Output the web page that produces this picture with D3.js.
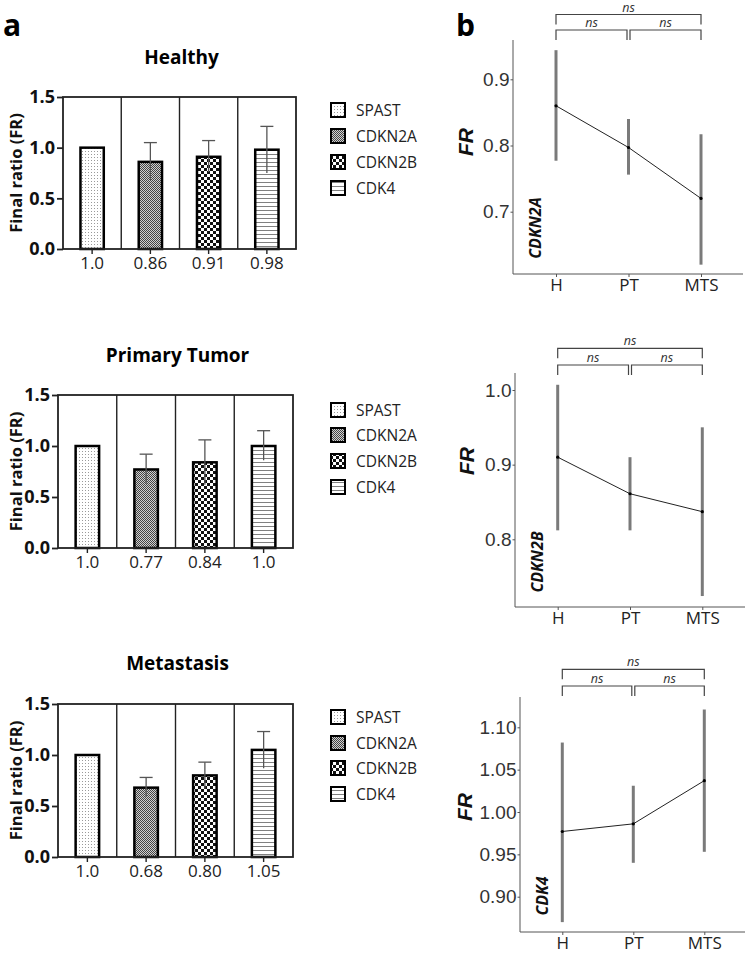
<!DOCTYPE html>
<html><head><meta charset="utf-8">
<script src="https://cdn.jsdelivr.net/npm/d3@7"></script>
<style>body{margin:0;background:#fff}svg{display:block}</style>
</head><body>
<svg id="c" width="749" height="953"></svg>
<script>
// ---------- DATA ----------
const genes = ["SPAST","CDKN2A","CDKN2B","CDK4"];
const barTitles = ["Healthy","Primary Tumor","Metastasis"];
const barTicks = [0, 0.5, 1.0, 1.5];

const healthyFR = [1.0, 0.86, 0.91, 0.98];
const healthyLow = [null, 0.68, 0.76, 0.75];
const healthyHigh = [null, 1.05, 1.07, 1.21];
const healthyLabels = ["1.0","0.86","0.91","0.98"];

const tumorFR = [1.0, 0.77, 0.84, 1.0];
const tumorLow = [null, 0.63, 0.62, 0.86];
const tumorHigh = [null, 0.92, 1.06, 1.15];
const tumorLabels = ["1.0","0.77","0.84","1.0"];

const metaFR = [1.0, 0.68, 0.80, 1.05];
const metaLow = [null, 0.59, 0.67, 0.87];
const metaHigh = [null, 0.78, 0.93, 1.23];
const metaLabels = ["1.0","0.68","0.80","1.05"];

const groups = ["H","PT","MTS"];
const lineGenes = ["CDKN2A","CDKN2B","CDK4"];

const cdkn2aMean = [0.86, 0.797, 0.72];
const cdkn2aLow = [0.777, 0.756, 0.62];
const cdkn2aHigh = [0.944, 0.84, 0.817];
const cdkn2aTicks = [0.7, 0.8, 0.9];

const cdkn2bMean = [0.91, 0.861, 0.837];
const cdkn2bLow = [0.812, 0.812, 0.724];
const cdkn2bHigh = [1.007, 0.91, 0.95];
const cdkn2bTicks = [0.8, 0.9, 1.0];

const cdk4Mean = [0.977, 0.986, 1.037];
const cdk4Low = [0.870, 0.940, 0.953];
const cdk4High = [1.082, 1.031, 1.121];
const cdk4Ticks = [0.90, 0.95, 1.00, 1.05, 1.10];

const sigLabel = "ns";

// ---------- SETUP ----------
const svg = d3.select("#c");
const defs = svg.append("defs");
const FONT = "'Open Sans', sans-serif";
const ARIAL = "'Liberation Sans', Arial, sans-serif";

function pat(id, w, h, bg) {
  const p = defs.append("pattern").attr("id", id).attr("patternUnits","userSpaceOnUse")
    .attr("width", w).attr("height", h);
  p.append("rect").attr("width", w).attr("height", h).attr("fill", bg);
  return p;
}
let p0 = pat("pSPAST", 3, 3, "#fff");
p0.append("rect").attr("x",1).attr("y",1).attr("width",1).attr("height",1).attr("fill","#9a9a9a");
let p1 = pat("pCDKN2A", 2, 2, "#d0d0d0");
p1.append("rect").attr("x",0).attr("y",0).attr("width",1).attr("height",1).attr("fill","#444");
p1.append("rect").attr("x",1).attr("y",1).attr("width",1).attr("height",1).attr("fill","#444");
let p2 = pat("pCDKN2B", 6, 6, "#fff");
p2.append("rect").attr("x",0).attr("y",0).attr("width",3).attr("height",3).attr("fill","#111");
p2.append("rect").attr("x",3).attr("y",3).attr("width",3).attr("height",3).attr("fill","#111");
let p3 = pat("pCDK4", 4, 4, "#fff");
p3.append("rect").attr("x",0).attr("y",2).attr("width",4).attr("height",1).attr("fill","#808080");
const fills = ["url(#pSPAST)","url(#pCDKN2A)","url(#pCDKN2B)","url(#pCDK4)"];

svg.append("text").attr("x",3).attr("y",36).text("a")
  .attr("font-family",FONT).attr("font-weight",700).attr("font-size",30);
svg.append("text").attr("x",456).attr("y",36).text("b")
  .attr("font-family",FONT).attr("font-weight",700).attr("font-size",30);

// ---------- BAR PANELS ----------
const barPanels = [
  {title: barTitles[0], vals: healthyFR, lo: healthyLow, hi: healthyHigh, labels: healthyLabels,
   x0: 63, x1: 296, y0: 97, y1: 249, ty: 64, ly: [110,136,162,188]},
  {title: barTitles[1], vals: tumorFR, lo: tumorLow, hi: tumorHigh, labels: tumorLabels,
   x0: 58, x1: 293, y0: 395, y1: 548, ty: 362, ly: [410,435,461,487]},
  {title: barTitles[2], vals: metaFR, lo: metaLow, hi: metaHigh, labels: metaLabels,
   x0: 58, x1: 293, y0: 704, y1: 857, ty: 670, ly: [717,743,768,794]}
];

barPanels.forEach(P => {
  const g = svg.append("g");
  const x = d3.scaleBand().domain(genes).range([P.x0, P.x1]).paddingInner(0.6).paddingOuter(0.3);
  const y = d3.scaleLinear().domain([0, 1.5]).range([P.y1, P.y0]);

  g.append("text").attr("x", (P.x0 + P.x1) / 2 + 2).attr("y", P.ty).attr("text-anchor","middle")
    .attr("font-family",FONT).attr("font-weight",700).attr("font-size",19).text(P.title);

  genes.slice(1).forEach((d, i) => {
    const xx = P.x0 + (i + 1) * (P.x1 - P.x0) / 4;
    g.append("line").attr("x1",xx).attr("x2",xx).attr("y1",P.y0).attr("y2",P.y1)
      .attr("stroke","#222").attr("stroke-width",1.4);
  });

  g.selectAll("rect.bar").data(P.vals).enter().append("rect")
    .attr("x", (d,i) => x(genes[i]))
    .attr("y", d => y(d))
    .attr("width", x.bandwidth())
    .attr("height", d => y(0) - y(d))
    .attr("fill", (d,i) => fills[i])
    .attr("stroke","#000").attr("stroke-width",2.5);

  P.vals.forEach((v, i) => {
    if (P.hi[i] == null) return;
    const cx = x(genes[i]) + x.bandwidth() / 2;
    g.append("line").attr("x1",cx).attr("x2",cx).attr("y1",y(P.lo[i])).attr("y2",y(P.hi[i]))
      .attr("stroke","#555").attr("stroke-width",1.3);
    g.append("line").attr("x1",cx-6.5).attr("x2",cx+6.5).attr("y1",y(P.hi[i])).attr("y2",y(P.hi[i]))
      .attr("stroke","#555").attr("stroke-width",1.3);
  });

  g.append("rect").attr("x",P.x0).attr("y",P.y0).attr("width",P.x1-P.x0).attr("height",P.y1-P.y0)
    .attr("fill","none").attr("stroke","#222").attr("stroke-width",1.8);

  const ya = d3.axisLeft(y).tickValues(barTicks).tickFormat(d3.format(".1f")).tickSize(6).tickPadding(2);
  const yg = g.append("g").attr("transform",`translate(${P.x0},0)`).call(ya);
  yg.select(".domain").remove();
  yg.selectAll("line").attr("stroke","#222").attr("stroke-width",1.8);
  yg.selectAll("text").attr("font-family",FONT).attr("font-weight",700).attr("font-size",18).attr("fill","#111");

  const xa = d3.axisBottom(x).tickSize(5).tickPadding(3).tickFormat((d,i) => P.labels[i]);
  const xg = g.append("g").attr("transform",`translate(0,${P.y1})`).call(xa);
  xg.select(".domain").remove();
  xg.selectAll("line").attr("stroke","#222").attr("stroke-width",1.4);
  xg.selectAll("text").attr("font-family",FONT).attr("font-size",17).attr("fill","#222");

  g.append("text").attr("transform",`translate(22,${(P.y0+P.y1)/2}) rotate(-90)`)
    .attr("text-anchor","middle").attr("font-family",FONT).attr("font-weight",700).attr("font-size",16.5)
    .attr("fill","#111").text("Final ratio (FR)");

  genes.forEach((gn, i) => {
    g.append("rect").attr("x",331).attr("y",P.ly[i]-7).attr("width",14).attr("height",14)
      .attr("fill",fills[i]).attr("stroke","#000").attr("stroke-width",2);
    g.append("text").attr("x",356).attr("y",P.ly[i]+5.5).attr("font-family",FONT).attr("font-size",15.5)
      .attr("fill","#222").text(gn);
  });
});

// ---------- LINE PANELS ----------
const linePanels = [
  {gene: lineGenes[0], mean: cdkn2aMean, lo: cdkn2aLow, hi: cdkn2aHigh, ticks: cdkn2aTicks, fmt: ".1f",
   ax: 513, ax1: 743, yTop: 40, yBot: 274, xs: [556, 628, 701], frX: 466, frY: 142,
   t0: 0.9, t0y: 79.3, t1: 0.7, t1y: 211.7, brTop: 14.5, brLow: 30, geneY: 228},
  {gene: lineGenes[1], mean: cdkn2bMean, lo: cdkn2bLow, hi: cdkn2bHigh, ticks: cdkn2bTicks, fmt: ".1f",
   ax: 515, ax1: 745, yTop: 373, yBot: 607, xs: [557.7, 630, 702.3], frX: 467, frY: 461,
   t0: 1.0, t0y: 390, t1: 0.8, t1y: 539.3, brTop: 348.3, brLow: 365, geneY: 562},
  {gene: lineGenes[2], mean: cdk4Mean, lo: cdk4Low, hi: cdk4High, ticks: cdk4Ticks, fmt: ".2f",
   ax: 520, ax1: 745, yTop: 697, yBot: 932, xs: [562.3, 632.7, 704.3], frX: 465, frY: 807,
   t0: 1.10, t0y: 727.3, t1: 0.90, t1y: 896.7, brTop: 669.3, brLow: 686, geneY: 896}
];

linePanels.forEach(P => {
  const g = svg.append("g");
  const y = d3.scaleLinear().domain([P.t1, P.t0]).range([P.t1y, P.t0y]);
  const x = d3.scalePoint().domain(groups).range([P.xs[0], P.xs[2]]);

  g.append("line").attr("x1",P.ax).attr("x2",P.ax).attr("y1",P.yTop).attr("y2",P.yBot)
    .attr("stroke","#555").attr("stroke-width",1);
  g.append("line").attr("x1",P.ax).attr("x2",P.ax1).attr("y1",P.yBot).attr("y2",P.yBot)
    .attr("stroke","#555").attr("stroke-width",1);

  const ya = d3.axisLeft(y).tickValues(P.ticks).tickFormat(d3.format(P.fmt)).tickSize(2.5).tickPadding(1);
  const yg = g.append("g").attr("transform",`translate(${P.ax},0)`).call(ya);
  yg.select(".domain").remove();
  yg.selectAll("line").attr("stroke","#555");
  yg.selectAll("text").attr("font-family",ARIAL).attr("font-size",19).attr("fill","#333");

  const xa = d3.axisBottom(x).tickSize(3).tickPadding(2);
  const xg = g.append("g").attr("transform",`translate(0,${P.yBot})`).call(xa);
  xg.select(".domain").remove();
  xg.selectAll("line").attr("stroke","#555");
  xg.selectAll("text").attr("font-family",FONT).attr("font-size",17).attr("fill","#222");

  groups.forEach((gr, i) => {
    g.append("line").attr("x1",x(gr)).attr("x2",x(gr)).attr("y1",y(P.lo[i])).attr("y2",y(P.hi[i]))
      .attr("stroke","#7a7a7a").attr("stroke-width",3);
  });
  const line = d3.line().x((d,i) => x(groups[i])).y(d => y(d));
  g.append("path").attr("d", line(P.mean)).attr("fill","none").attr("stroke","#222").attr("stroke-width",1);
  g.selectAll("circle").data(P.mean).enter().append("circle")
    .attr("cx",(d,i) => x(groups[i])).attr("cy", d => y(d)).attr("r",1.6).attr("fill","#000");

  g.append("text").attr("transform",`translate(${P.frX + 7},${P.frY}) rotate(-90)`).attr("text-anchor","middle")
    .attr("font-family",ARIAL).attr("font-weight",700).attr("font-style","italic").attr("font-size",21)
    .attr("fill","#111").text("FR");

  g.append("text").attr("transform",`translate(${P.ax+28},${P.geneY}) rotate(-90)`).attr("text-anchor","middle")
    .attr("font-family",FONT).attr("font-weight",700).attr("font-style","italic").attr("font-size",16)
    .attr("fill","#111").text(P.gene);

  const xH = x("H"), xP = x("PT"), xM = x("MTS");
  const drop = 10;
  function bracket(a, b, yy, lbl) {
    g.append("path").attr("d",`M${a},${yy+drop}V${yy}H${b}V${yy+drop}`)
      .attr("fill","none").attr("stroke","#444").attr("stroke-width",1.2);
    g.append("text").attr("x",(a+b)/2).attr("y",yy-3).attr("text-anchor","middle")
      .attr("font-family",FONT).attr("font-style","italic").attr("font-size",12.5).attr("fill","#333").text(lbl);
  }
  bracket(xH, xM, P.brTop, sigLabel);
  bracket(xH, xP - 1.5, P.brLow, sigLabel);
  bracket(xP + 1.5, xM, P.brLow, sigLabel);
});
</script>
</body></html>
